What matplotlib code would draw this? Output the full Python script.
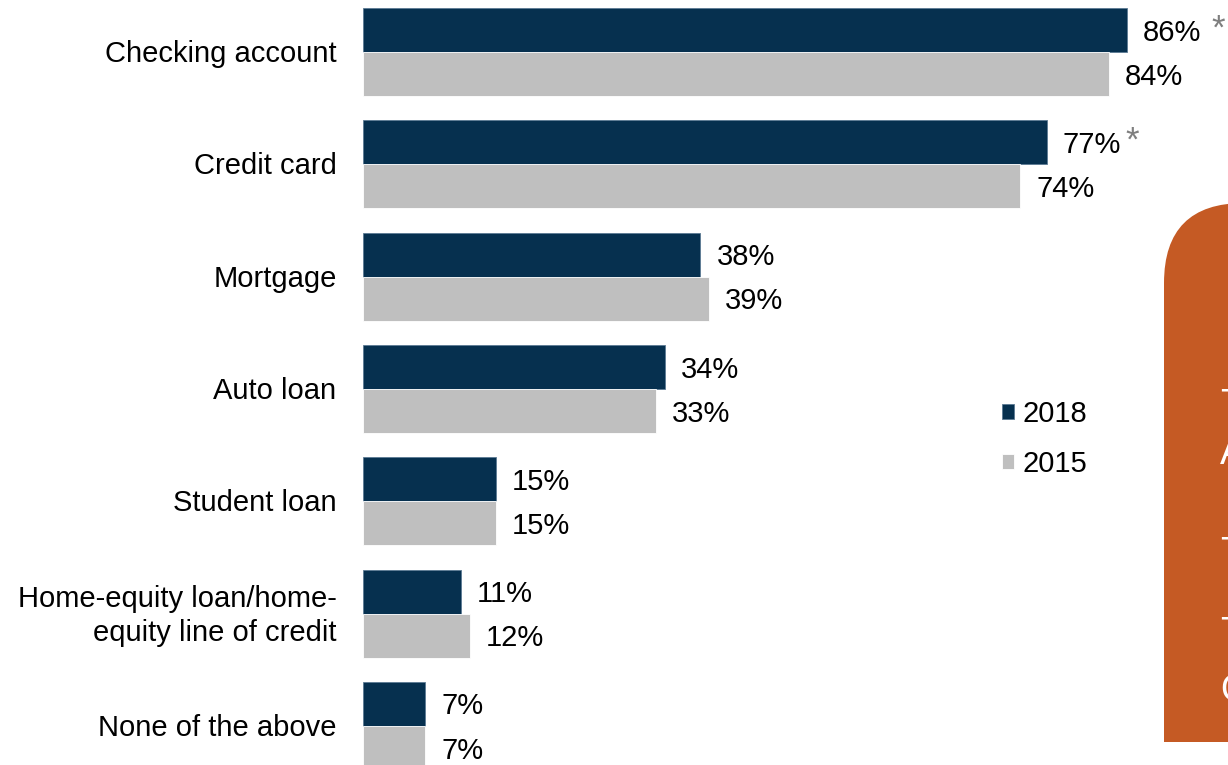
#!/usr/bin/env python3
"""Grouped horizontal bars: product ownership, 2018 vs 2015."""

import matplotlib
matplotlib.use("Agg")
import matplotlib.pyplot as plt
from matplotlib.patches import FancyBboxPatch, Rectangle

plt.rcParams["font.family"] = ["Liberation Sans", "DejaVu Sans"]

categories = [
    "Checking account",
    "Credit card",
    "Mortgage",
    "Auto loan",
    "Student loan",
    "Home-equity loan/home-\nequity line of credit",
    "None of the above",
]
values_2018 = [86, 77, 38, 34, 15, 11, 7]
values_2015 = [84, 74, 39, 33, 15, 12, 7]
flagged = ["Checking account", "Credit card"]  # significant change marker

NAVY = "#06304F"
GREY = "#BFBFBF"
ORANGE = "#C55A24"
FS = 21

W, H = 1228, 765
PITCH = 112.33   # px per category group
fig = plt.figure(figsize=(W / 100, H / 100), dpi=100)

# orange callout, mostly off-canvas on the right (pixel-space overlay)
bg = fig.add_axes([0, 0, 1, 1])
bg.set_xlim(0, W)
bg.set_ylim(H, 0)
bg.axis("off")
bg.add_patch(FancyBboxPatch((1164, 203), 300, 539,
                            boxstyle="round,pad=0,rounding_size=80",
                            facecolor=ORANGE, edgecolor="none"))
bg.add_patch(Rectangle((1164, 600), 300, 142, facecolor=ORANGE, edgecolor="none"))
for ch, ytop in [("T", 388), ("A", 436), ("T", 536), ("T", 616), ("O", 673)]:
    bg.text(1220, ytop, ch, color="white", fontsize=27, va="top", ha="left")

ax = fig.add_axes([363 / W, 0, 1 - 363 / W, 1])
ax.patch.set_alpha(0)
bar_h = 0.392
y = list(range(len(categories)))
ax.barh([i - bar_h / 2 for i in y], values_2018, height=bar_h, color=NAVY,
        edgecolor="#5b7a93", linewidth=0.6, label="2018")
ax.barh([i + bar_h / 2 for i in y], values_2015, height=bar_h, color=GREY,
        edgecolor="white", linewidth=0.6, label="2015")

ax.set_xlim(0, (W - 363) / 8.88)
top = -bar_h - 8 / PITCH
ax.set_ylim(top + H / PITCH, top)
ax.axis("off")

for i, (cat, v18, v15) in enumerate(zip(categories, values_2018, values_2015)):
    ax.annotate(f"{v18}%", (v18, i - bar_h / 2), xytext=(11.5, -1.8),
                textcoords="offset points", va="center", ha="left", fontsize=FS)
    ax.annotate(f"{v15}%", (v15, i + bar_h / 2), xytext=(11.5, -1.8),
                textcoords="offset points", va="center", ha="left", fontsize=FS)
    ax.annotate(cat, (0, i), xytext=(-19, -1.5), textcoords="offset points",
                va="center", ha="right", fontsize=FS, linespacing=1.25,
                annotation_clip=False)
    if cat in flagged:
        dx = 92 if v18 > 80 else 85
        ax.annotate("*", (v18, i - bar_h / 2), xytext=(dx * 0.72, 1),
                    textcoords="offset points", va="center", ha="center",
                    fontsize=25, color="#7F7F7F")

leg = ax.legend(loc="upper left", frameon=False, fontsize=FS,
                handlelength=0.42, handleheight=0.42, handletextpad=0.28,
                labelspacing=0.75, borderpad=0, borderaxespad=0)
leg.set_bbox_to_anchor((1002 / W, 1 - 400 / H), transform=fig.transFigure)

fig.savefig("out.png", dpi=100)
